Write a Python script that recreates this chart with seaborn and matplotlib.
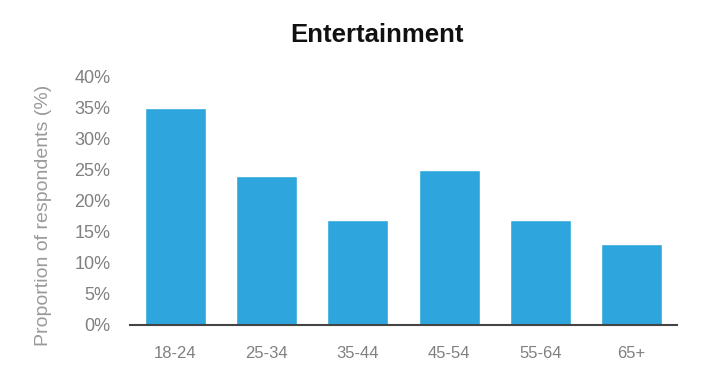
import matplotlib
matplotlib.use("Agg")
import matplotlib.pyplot as plt
import seaborn as sns
import pandas as pd

categories = ["18-24", "25-34", "35-44", "45-54", "55-64", "65+"]
values = [35, 24, 17, 25, 17, 13]
yticks = [0, 5, 10, 15, 20, 25, 30, 35, 40]
ytick_labels = [f"{t}%" for t in yticks]

sns.set_style("white")
plt.rcParams['font.family'] = ['Liberation Sans', 'DejaVu Sans']

df = pd.DataFrame({"age": categories, "pct": values})
fig = plt.figure(figsize=(7.22, 3.9), dpi=100)
ax = fig.add_axes([0.180, 0.1667, 0.7577, 0.636])
sns.barplot(data=df, x="age", y="pct", color="#2EA6DD", saturation=1, width=0.67, ax=ax)
ax.set_xlim(-0.5, 5.5)
ax.set_ylim(0, 40)
ax.set_yticks(yticks)
ax.set_yticklabels(ytick_labels)
for s in ["top", "right", "left"]:
    ax.spines[s].set_visible(False)
ax.spines["bottom"].set_color("#444444")
ax.spines["bottom"].set_linewidth(1.5)
ax.tick_params(axis="y", length=0, pad=14, labelsize=13, labelcolor="#808080")
ax.tick_params(axis="x", length=0, pad=15, labelsize=12, labelcolor="#808080")
ax.set_xlabel("")
ax.set_ylabel("Proportion of respondents (%)", fontsize=14, color="#9a9a9a")
ax.yaxis.set_label_coords(-0.143, 0.44)
fig.suptitle("Entertainment", x=0.522, y=0.942, fontsize=18.5, fontweight="bold", color="#111111")
fig.savefig("out.png", dpi=100)
